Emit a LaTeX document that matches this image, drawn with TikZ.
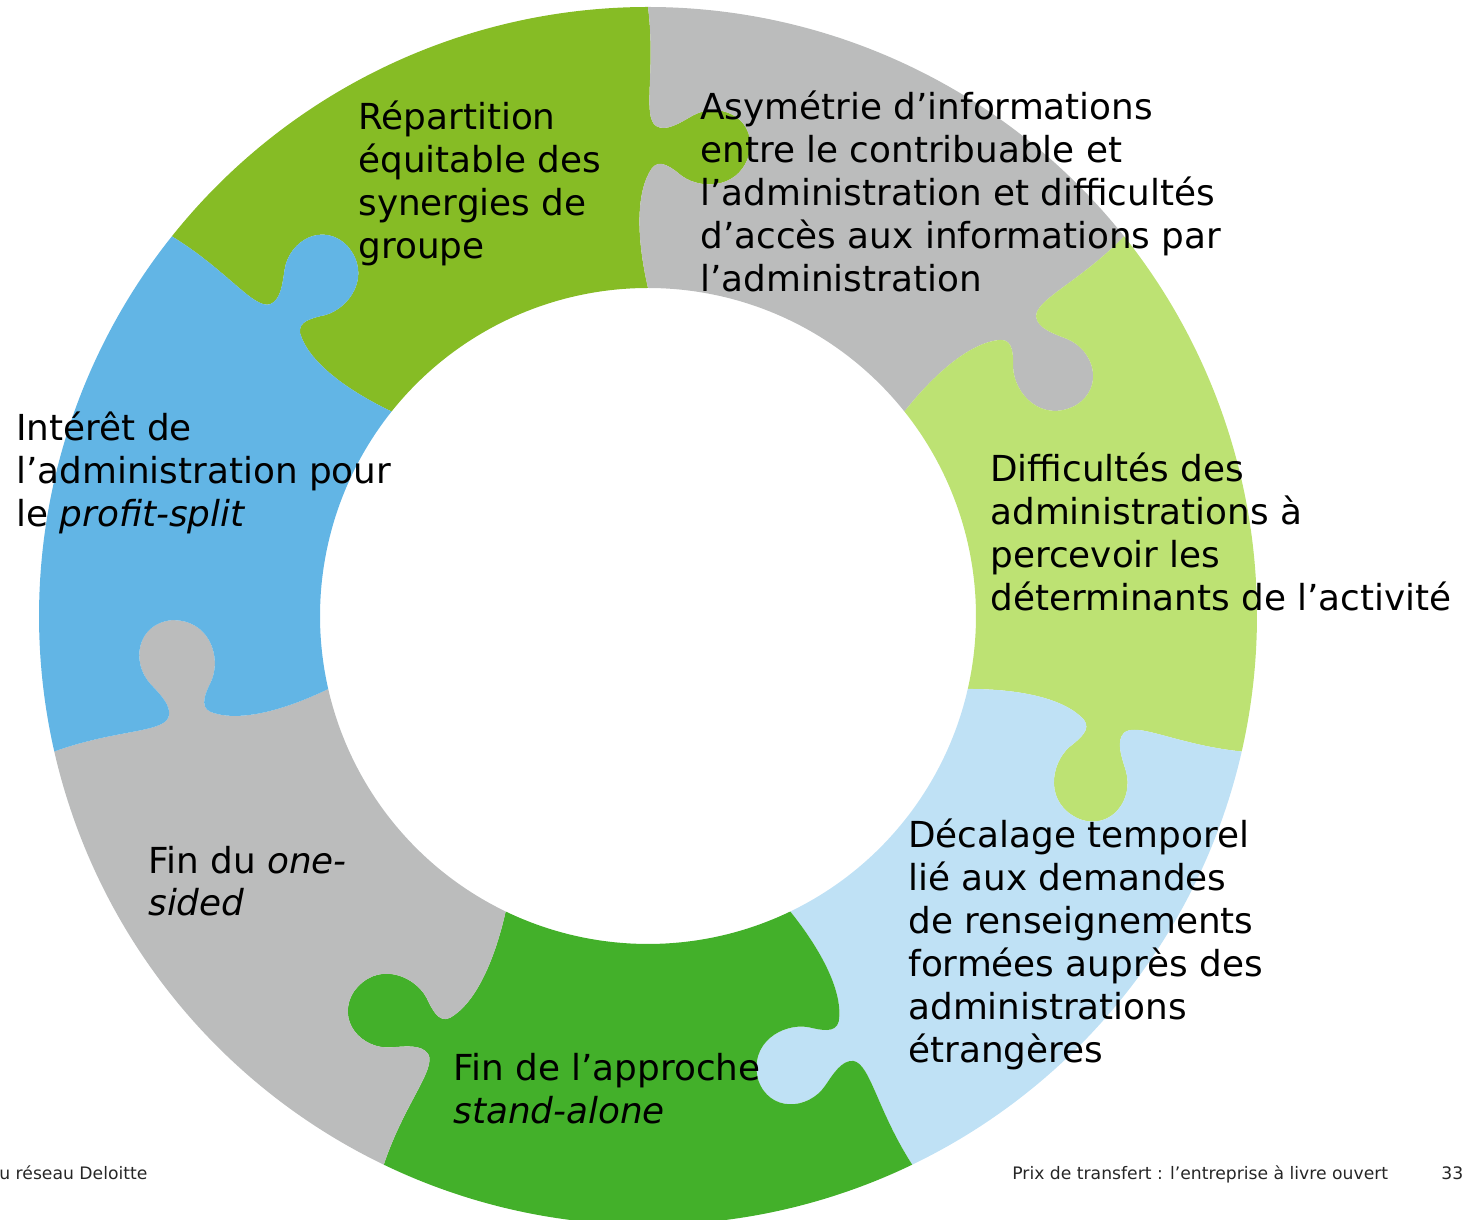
\documentclass[tikz,border=0pt]{standalone}
\usepackage{fontspec}
\setmainfont{DejaVu Sans}

\definecolor{greenA}{HTML}{86BC25}
\definecolor{greyA}{HTML}{BBBCBC}
\definecolor{greenB}{HTML}{BDE273}
\definecolor{blueB}{HTML}{BFE1F5}
\definecolor{greenC}{HTML}{43B02A}
\definecolor{blueA}{HTML}{62B5E5}

\begin{document}
\begin{tikzpicture}[x=0.5pt,y=0.5pt,
  every node/.style={inner sep=0pt,anchor=base west,align=left,font=\fontsize{17.9}{21.5}\selectfont},
  footer/.style={font=\fontsize{8.6}{10}\selectfont,text=black!85}]
  \useasboundingbox (-648,-604) rectangle (820,616);
  \clip (-648,-604) rectangle (820,616);

  % seven puzzle pieces, each with a tab on its clockwise edge
  \foreach \col [count=\k from -1] in {greenA,greyA,greenB,blueB,greenC,greyA,blueA} {
    \pgfmathsetmacro\hi{90-\k*360/7}
    \pgfmathsetmacro\lo{\hi-360/7}
    \fill[fill=\col] (\hi:609)
      {[rotate=\hi] .. controls (545,-8) and (500,6) .. (490,-8)
        .. controls (484,-18) and (493,-32) .. (500,-44)
        .. controls (515,-70) and (500,-106) .. (466,-102)
        .. controls (428,-95) and (425,-55) .. (440,-34)
        .. controls (448,-24) and (458,-12) .. (448,-4)
        .. controls (425,12) and (380,12) .. (328,0)}
      arc[start angle=\hi,end angle=\lo,radius=328]
      {[rotate=\lo] .. controls (380,12) and (425,12) .. (448,-4)
        .. controls (458,-12) and (448,-24) .. (440,-34)
        .. controls (425,-55) and (428,-95) .. (466,-102)
        .. controls (500,-106) and (515,-70) .. (500,-44)
        .. controls (493,-32) and (484,-18) .. (490,-8)
        .. controls (500,6) and (545,-8) .. (609,0)}
      arc[start angle=\lo,end angle=\hi,radius=609] -- cycle;
  }

  % labels (placed at the baseline of their last line)
  \node (synergies) at (-290,357) {Répartition\\équitable des\\synergies de\\groupe};
  \node (asymetrie) at (52,324) {Asymétrie d’informations\\entre le contribuable et\\l’administration et difficultés\\d’accès aux informations par\\l’administration};
  \node (determinants) at (342,5) {Difficultés des\\administrations à\\percevoir les\\déterminants de l’activité};
  \node (decalage) at (260,-446) {Décalage temporel\\lié aux demandes\\de renseignements\\formées auprès des\\administrations\\étrangères};
  \node (standalone) at (-195,-507) {Fin de l’approche\\\textit{stand-alone}};
  \node (onesided) at (-500,-300) {Fin du \textit{one-}\\\textit{sided}};
  \node (profitsplit) at (-632,89) {Intérêt de\\l’administration pour\\le \textit{profit-split}};

  % footer
  \node[footer] (reseau) at (-649,-563) {u réseau Deloitte};
  \node[footer] (titre) at (364,-563) {Prix de transfert : l’entreprise à livre ouvert};
  \node[footer] (page) at (793,-563) {33};
\end{tikzpicture}
\end{document}
